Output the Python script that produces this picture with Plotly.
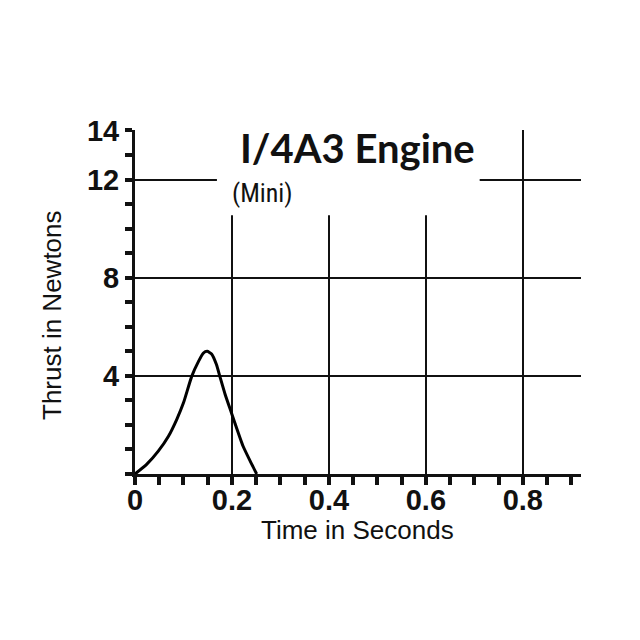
import plotly.graph_objects as go

# Data
time_s = [0.0, 0.024, 0.048, 0.069, 0.086, 0.100, 0.117, 0.131, 0.141, 0.149,
          0.158, 0.168, 0.175, 0.186, 0.199, 0.206, 0.223, 0.241, 0.251]
thrust_n = [0.0, 0.39, 0.93, 1.54, 2.22, 2.90, 3.98, 4.59, 4.93, 5.00,
            4.89, 4.46, 3.98, 3.24, 2.49, 2.08, 1.13, 0.39, 0.0]

x_tickvals = [0, 0.2, 0.4, 0.6, 0.8]
x_ticktext = ["0", "0.2", "0.4", "0.6", "0.8"]
y_tickvals = [4, 8, 12, 14]
y_ticktext = ["4", "8", "12", "14"]

title_text = "<b>I/4A3 Engine</b>"
subtitle_text = "(Mini)"
x_title = "Time in Seconds"
y_title = "Thrust in Newtons"

fig = go.Figure()
fig.add_trace(go.Scatter(
    x=time_s, y=thrust_n, mode="lines",
    line=dict(color="black", width=3, shape="spline", smoothing=0.5),
    hoverinfo="skip", showlegend=False,
))

tick_font = dict(family="Liberation Sans, Arial, sans-serif", size=29, color="#111", weight="bold")
title_font = dict(family="Liberation Sans, Arial, sans-serif", size=26, color="#111")

fig.update_xaxes(
    range=[0, 0.92],
    tickmode="array", tickvals=x_tickvals, ticktext=x_ticktext,
    ticks="outside", ticklen=8, tickwidth=4, tickcolor="#111",
    showline=True, linecolor="#111", linewidth=3,
    showgrid=True, gridcolor="#111", gridwidth=1.6,
    zeroline=False, automargin=False,
    tickfont=tick_font, ticklabelstandoff=-10,
    minor=dict(tickmode="linear", tick0=0, dtick=0.05, ticks="outside",
               ticklen=8, tickwidth=4, tickcolor="#111", showgrid=False),
    fixedrange=True,
)
fig.update_yaxes(
    range=[0, 14.02],
    tickmode="array", tickvals=y_tickvals, ticktext=y_ticktext,
    ticks="outside", ticklen=7, tickwidth=4, tickcolor="#111",
    showline=True, linecolor="#111", linewidth=3,
    showgrid=True, gridcolor="#111", gridwidth=1.6,
    zeroline=False, automargin=False,
    tickfont=tick_font,
    minor=dict(tickmode="linear", tick0=0, dtick=1, ticks="outside",
               ticklen=7, tickwidth=4, tickcolor="#111", showgrid=False),
    fixedrange=True,
)

# white box behind title that interrupts the grid
fig.add_shape(type="rect", xref="x", yref="y", x0=0.169, x1=0.711, y0=10.55, y1=14.6,
              fillcolor="white", line=dict(width=0), layer="above")

# axis titles
fig.add_annotation(text=x_title, xref="paper", yref="paper",
                   x=(357 - 135) / 446, y=(474 - 530) / 344, xanchor="center", yanchor="middle",
                   showarrow=False, font=title_font)
fig.add_annotation(text=y_title, xref="paper", yref="paper", textangle=-90,
                   x=(52 - 135) / 446, y=(474 - 315) / 344, xanchor="center", yanchor="middle",
                   showarrow=False, font=title_font)

fig.add_annotation(text=title_text, xref="paper", yref="paper",
                   x=(357 - 135) / 446, y=(474 - 148) / 344, xanchor="center", yanchor="middle",
                   showarrow=False,
                   font=dict(family="Lato, Open Sans, sans-serif", size=40, color="#111"))
fig.add_annotation(text=subtitle_text, xref="paper", yref="paper",
                   x=(230 - 135) / 446, y=(474 - 193) / 344, xanchor="left", yanchor="middle",
                   showarrow=False,
                   font=dict(family="Liberation Sans Narrow, Roboto Condensed, Lato, sans-serif", size=26, color="#111"))

# page body has an 8px default margin, compensate for it
fig.update_layout(
    width=640, height=640,
    margin=dict(l=127, r=67, t=122, b=174),
    plot_bgcolor="white", paper_bgcolor="white",
)

fig.write_html("out.html")
